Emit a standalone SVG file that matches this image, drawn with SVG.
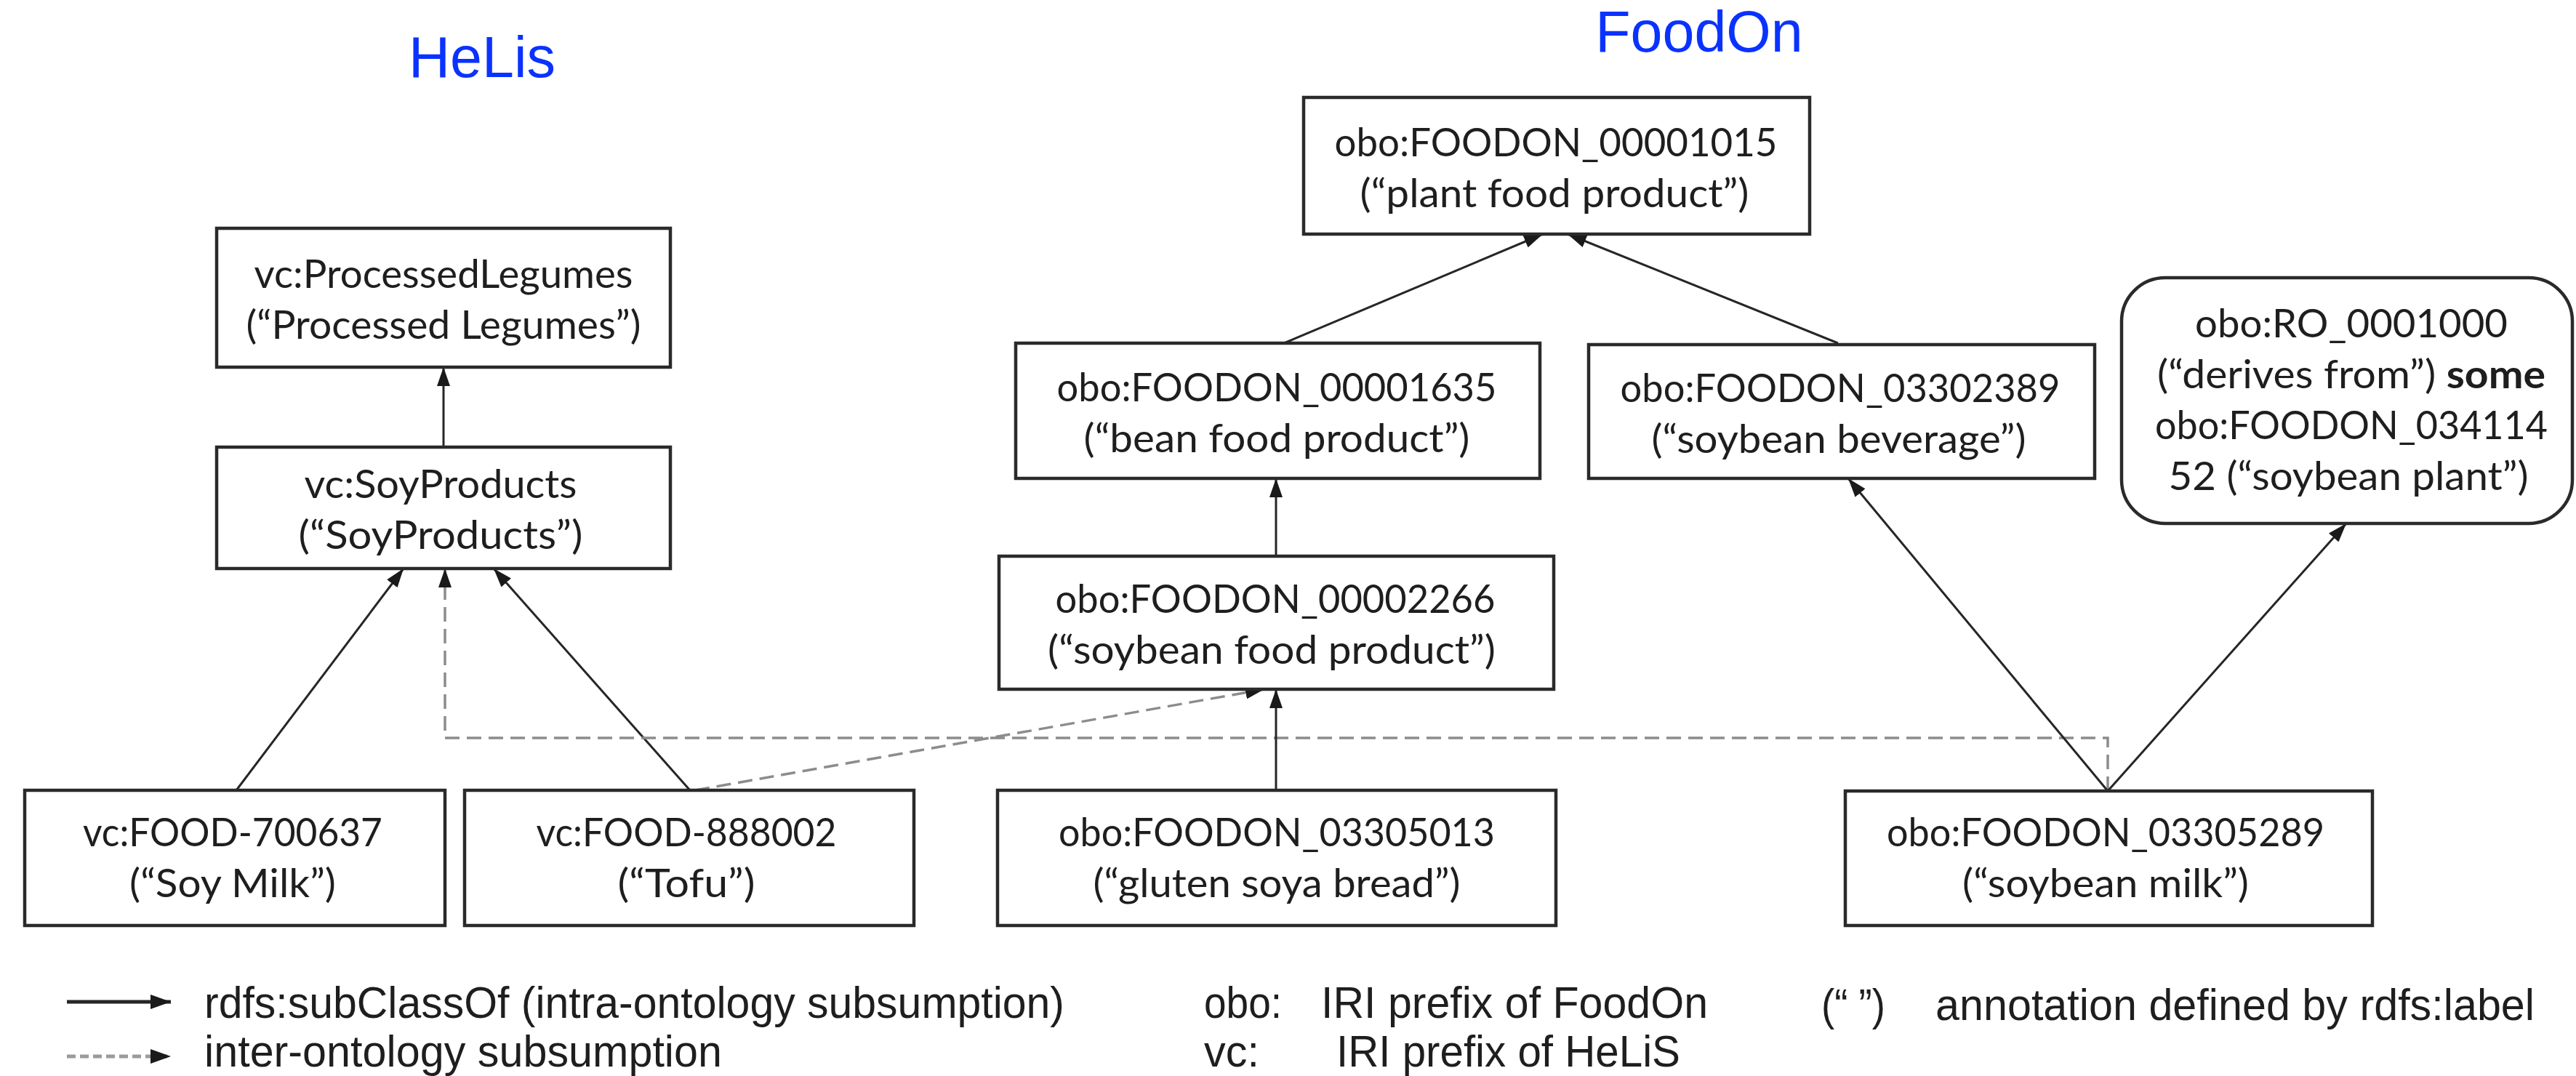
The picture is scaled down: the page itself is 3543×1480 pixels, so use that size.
<svg xmlns="http://www.w3.org/2000/svg" width="3543" height="1480" viewBox="0 0 3543 1480">
<style>
.box{fill:#fff;stroke:#2a2a2a;stroke-width:4.5}
.nt{font-family:Lato,'Open Sans',sans-serif;font-size:54px;fill:#1e1e1e;text-anchor:middle}
.title{font-family:'Liberation Sans',Arial,sans-serif;font-size:79px;fill:#0a32ff;text-anchor:middle}
.lg{font-family:'Liberation Sans',Arial,sans-serif;font-size:61px;fill:#1e1e1e}
.solid{fill:none;stroke:#262626;stroke-width:3}
.dash{fill:none;stroke:#8c8c8c;stroke-width:3.5;stroke-dasharray:20 10}
</style>
<defs>
<marker id="ah" markerUnits="userSpaceOnUse" markerWidth="26" markerHeight="18" refX="26" refY="9" orient="auto">
<path d="M0,0 L26,9 L0,18 Z" fill="#1a1a1a"/>
</marker>
<marker id="ahl" markerUnits="userSpaceOnUse" markerWidth="28" markerHeight="20" refX="28" refY="10" orient="auto">
<path d="M0,0 L28,10 L0,20 Z" fill="#1a1a1a"/>
</marker>
</defs>
<rect width="3543" height="1480" fill="#fff"/>

<text class="title" x="663" y="106">HeLis</text>
<text class="title" x="2337" y="71">FoodOn</text>

<g id="connectors">
<path class="solid" d="M610 615 L610 505" marker-end="url(#ah)"/>
<path class="solid" d="M325 1087 L555 782" marker-end="url(#ah)"/>
<path class="solid" d="M949 1087 L679 782" marker-end="url(#ah)"/>
<path class="dash" d="M2899 1088 L2899 1015 L612 1015 L612 782" marker-end="url(#ah)"/>
<path class="dash" d="M956 1087 L1739 948" marker-end="url(#ah)"/>
<path class="solid" d="M1755 1087 L1755 948" marker-end="url(#ah)"/>
<path class="solid" d="M1755 765 L1755 658" marker-end="url(#ah)"/>
<path class="solid" d="M1766 472 L2122 322" marker-end="url(#ah)"/>
<path class="solid" d="M2528 472 L2156 322" marker-end="url(#ah)"/>
<path class="solid" d="M2899 1088 L2542 658" marker-end="url(#ah)"/>
<path class="solid" d="M2899 1088 L3227 720" marker-end="url(#ah)"/>
</g>

<g id="n-processedlegumes">
<rect class="box" x="298" y="314" width="624" height="191"/>
<text class="nt" x="610" y="396" textLength="521" lengthAdjust="spacingAndGlyphs">vc:ProcessedLegumes</text>
<text class="nt" x="610" y="466" textLength="543" lengthAdjust="spacingAndGlyphs">(“Processed Legumes”)</text>
</g>
<g id="n-soyproducts">
<rect class="box" x="298" y="615" width="624" height="167"/>
<text class="nt" x="606" y="685" textLength="375" lengthAdjust="spacingAndGlyphs">vc:SoyProducts</text>
<text class="nt" x="606" y="755" textLength="391" lengthAdjust="spacingAndGlyphs">(“SoyProducts”)</text>
</g>
<g id="n-plantfood">
<rect class="box" x="1793" y="134" width="696" height="188"/>
<text class="nt" x="2140" y="215" textLength="609" lengthAdjust="spacingAndGlyphs">obo:FOODON_00001015</text>
<text class="nt" x="2138" y="285" textLength="535" lengthAdjust="spacingAndGlyphs">(“plant food product”)</text>
</g>
<g id="n-beanfood">
<rect class="box" x="1397" y="472" width="721" height="186"/>
<text class="nt" x="1756" y="552" textLength="605" lengthAdjust="spacingAndGlyphs">obo:FOODON_00001635</text>
<text class="nt" x="1756" y="622" textLength="531" lengthAdjust="spacingAndGlyphs">(“bean food product”)</text>
</g>
<g id="n-soybeanbeverage">
<rect class="box" x="2185" y="474" width="696" height="184"/>
<text class="nt" x="2531" y="553" textLength="605" lengthAdjust="spacingAndGlyphs">obo:FOODON_03302389</text>
<text class="nt" x="2529" y="623" textLength="515" lengthAdjust="spacingAndGlyphs">(“soybean beverage”)</text>
</g>
<g id="n-derives">
<rect class="box" x="2918" y="382" width="620" height="338" rx="60" ry="60"/>
<text class="nt" x="3234" y="464" textLength="430" lengthAdjust="spacingAndGlyphs">obo:RO_0001000</text>
<text class="nt" x="3234" y="534" textLength="534" lengthAdjust="spacingAndGlyphs">(“derives from”) <tspan font-weight="bold">some</tspan></text>
<text class="nt" x="3234" y="604" textLength="540" lengthAdjust="spacingAndGlyphs">obo:FOODON_034114</text>
<text class="nt" x="3230" y="674" textLength="495" lengthAdjust="spacingAndGlyphs">52 (“soybean plant”)</text>
</g>
<g id="n-soybeanfood">
<rect class="box" x="1374" y="765" width="763" height="183"/>
<text class="nt" x="1754" y="843" textLength="605" lengthAdjust="spacingAndGlyphs">obo:FOODON_00002266</text>
<text class="nt" x="1749" y="913" textLength="616" lengthAdjust="spacingAndGlyphs">(“soybean food product”)</text>
</g>
<g id="n-soymilk">
<rect class="box" x="34" y="1087" width="578" height="186"/>
<text class="nt" x="320" y="1164" textLength="412" lengthAdjust="spacingAndGlyphs">vc:FOOD-700637</text>
<text class="nt" x="320" y="1234" textLength="284" lengthAdjust="spacingAndGlyphs">(“Soy Milk”)</text>
</g>
<g id="n-tofu">
<rect class="box" x="639" y="1087" width="618" height="186"/>
<text class="nt" x="944" y="1164" textLength="413" lengthAdjust="spacingAndGlyphs">vc:FOOD-888002</text>
<text class="nt" x="944" y="1234" textLength="189" lengthAdjust="spacingAndGlyphs">(“Tofu”)</text>
</g>
<g id="n-glutensoya">
<rect class="box" x="1372" y="1087" width="768" height="186"/>
<text class="nt" x="1756" y="1164" textLength="600" lengthAdjust="spacingAndGlyphs">obo:FOODON_03305013</text>
<text class="nt" x="1756" y="1234" textLength="505" lengthAdjust="spacingAndGlyphs">(“gluten soya bread”)</text>
</g>
<g id="n-soybeanmilk">
<rect class="box" x="2538" y="1088" width="725" height="185"/>
<text class="nt" x="2896" y="1164" textLength="602" lengthAdjust="spacingAndGlyphs">obo:FOODON_03305289</text>
<text class="nt" x="2896" y="1234" textLength="394" lengthAdjust="spacingAndGlyphs">(“soybean milk”)</text>
</g>

<g id="legend">
<path d="M92 1378 L235 1378" fill="none" stroke="#262626" stroke-width="5" marker-end="url(#ahl)"/>
<path d="M92 1453 L235 1453" fill="none" stroke="#9a9a9a" stroke-width="5" stroke-dasharray="12 6" marker-end="url(#ahl)"/>
<text class="lg" x="281" y="1400" textLength="1183" lengthAdjust="spacingAndGlyphs">rdfs:subClassOf (intra-ontology subsumption)</text>
<text class="lg" x="281" y="1467" textLength="712" lengthAdjust="spacingAndGlyphs">inter-ontology subsumption</text>
<text class="lg" x="1656" y="1400" textLength="107" lengthAdjust="spacingAndGlyphs">obo:</text>
<text class="lg" x="1817" y="1400" textLength="532" lengthAdjust="spacingAndGlyphs">IRI prefix of FoodOn</text>
<text class="lg" x="1656" y="1467" textLength="76" lengthAdjust="spacingAndGlyphs">vc:</text>
<text class="lg" x="1838" y="1467" textLength="473" lengthAdjust="spacingAndGlyphs">IRI prefix of HeLiS</text>
<text class="lg" x="2505" y="1403" textLength="88" lengthAdjust="spacingAndGlyphs">(“ ”)</text>
<text class="lg" x="2662" y="1403" textLength="824" lengthAdjust="spacingAndGlyphs">annotation defined by rdfs:label</text>
</g>
</svg>
